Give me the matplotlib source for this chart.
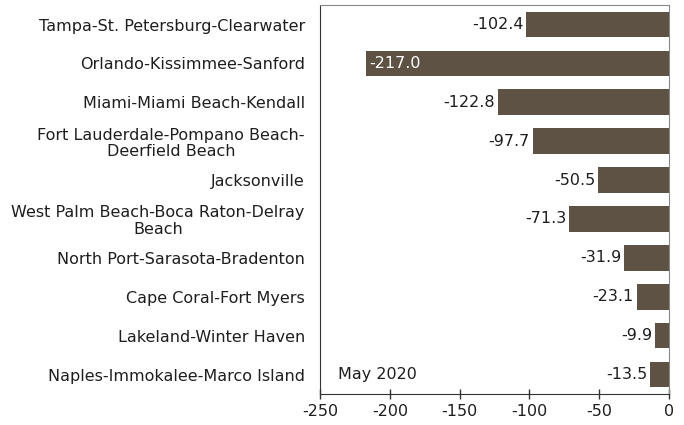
import matplotlib
matplotlib.use('Agg')
import matplotlib.pyplot as plt

# data
areas = ['Tampa-St. Petersburg-Clearwater',
         'Orlando-Kissimmee-Sanford',
         'Miami-Miami Beach-Kendall',
         'Fort Lauderdale-Pompano Beach-\nDeerfield Beach',
         'Jacksonville',
         'West Palm Beach-Boca Raton-Delray\nBeach',
         'North Port-Sarasota-Bradenton',
         'Cape Coral-Fort Myers',
         'Lakeland-Winter Haven',
         'Naples-Immokalee-Marco Island']
change = [-102.4, -217.0, -122.8, -97.7, -50.5, -71.3, -31.9, -23.1, -9.9, -13.5]
xticks = [-250, -200, -150, -100, -50, 0]

bar_color = '#5e5245'
txt = '#1e1e1e'
fs = 11.5

fig = plt.figure(figsize=(6.84, 4.25), dpi=100)
ax = fig.add_axes([0.468, 0.073, 0.51, 0.915])

pos = list(range(len(areas)))
ax.barh(pos, change, height=0.66, color=bar_color)

for p, v in zip(pos, change):
    if v < -200:
        ax.text(v + 2, p, f'{v:.1f}', ha='left', va='center', color='white', fontsize=fs)
    else:
        ax.text(v - 2, p, f'{v:.1f}', ha='right', va='center', color=txt, fontsize=fs)

ax.text(-237, 9, 'May 2020', ha='left', va='center', fontsize=fs, color=txt)

ax.set_xlim(-250, 0)
ax.set_ylim(9.5, -0.5)
ax.set_xticks(xticks)
ax.set_xticklabels([str(t) for t in xticks], fontsize=fs, color=txt)
ax.set_yticks(pos)
ax.set_yticklabels(areas, fontsize=fs, color=txt, multialignment='center', linespacing=1.1)
ax.tick_params(axis='y', length=0, pad=11)
ax.tick_params(axis='x', direction='inout', length=7, width=1, color='#333333', pad=4)

for s in ['top', 'right']:
    ax.spines[s].set_color('#888888')
for s in ['left', 'bottom']:
    ax.spines[s].set_color('#333333')

plt.savefig('out.png', dpi=100)
